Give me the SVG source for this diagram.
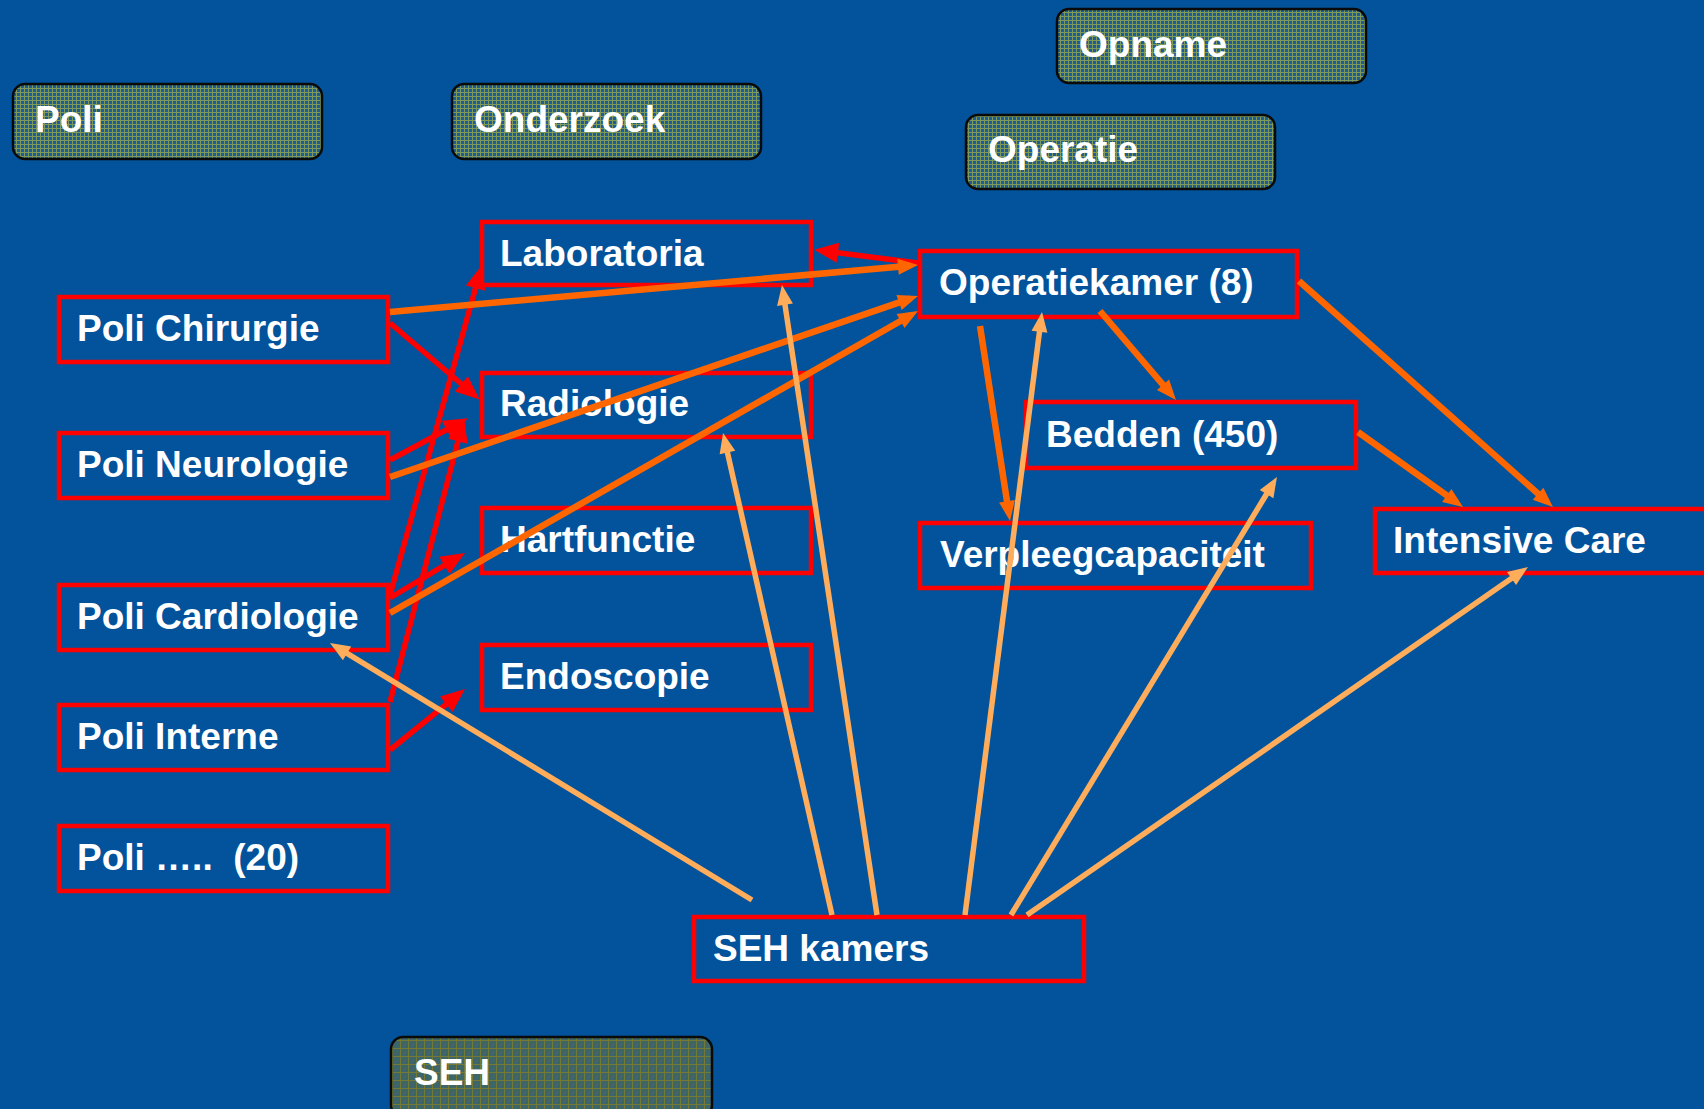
<svg xmlns="http://www.w3.org/2000/svg" width="1704" height="1109" viewBox="0 0 1704 1109">
<style>
.node rect{fill:#02539b;stroke:#ff0000;stroke-width:4.5}
.hdr rect{stroke:#0a0a0a;stroke-width:2.5}
.hdr .p{fill:url(#plaid)}
.hdr .g{fill:url(#grid)}
text{font-family:"Liberation Sans",Arial,sans-serif;font-weight:bold;font-size:37px;fill:#ffffff;white-space:pre}
.cr line{stroke:#ff0000;stroke-width:5.5;marker-end:url(#arrR)}
.co line{stroke:#ff6600;stroke-width:6.5;marker-end:url(#arrO)}
.cl line{stroke:#ffad5b;stroke-width:5.5;marker-end:url(#arrL)}
</style>
<defs>
<pattern id="plaid" patternUnits="userSpaceOnUse" width="4" height="4">
<rect width="4" height="4" fill="#1d5c99"/>
<rect width="1" height="4" fill="#7f9a58"/>
<rect width="4" height="1" fill="#7f9a58"/>
</pattern>
<pattern id="grid" patternUnits="userSpaceOnUse" width="8" height="8">
<rect width="8" height="8" fill="#3e6668"/>
<rect width="1" height="8" fill="#747a36"/>
<rect width="8" height="1" fill="#747a36"/>
</pattern>
<marker id="arrR" markerUnits="userSpaceOnUse" markerWidth="24" markerHeight="20" refX="14" refY="10" orient="auto" overflow="visible">
<path d="M0,0 L24,10 L0,20 z" fill="#ff0000"/>
</marker>
<marker id="arrO" markerUnits="userSpaceOnUse" markerWidth="20" markerHeight="16" refX="12" refY="8" orient="auto" overflow="visible">
<path d="M0,0 L20,8 L0,16 z" fill="#ff6600"/>
</marker>
<marker id="arrL" markerUnits="userSpaceOnUse" markerWidth="20" markerHeight="16" refX="12" refY="8" orient="auto" overflow="visible">
<path d="M0,0 L20,8 L0,16 z" fill="#ffad5b"/>
</marker>
</defs>
<rect x="0" y="0" width="1704" height="1109" fill="#02539b"/>

<g id="hdr-poli" class="hdr"><rect class="p" x="13" y="84" width="309" height="75" rx="12"/><text x="35" y="132">Poli</text></g>
<g id="hdr-onderzoek" class="hdr"><rect class="p" x="452" y="84" width="309" height="75" rx="12"/><text x="474" y="132">Onderzoek</text></g>
<g id="hdr-opname" class="hdr"><rect class="p" x="1057" y="9" width="309" height="74" rx="12"/><text x="1079" y="57">Opname</text></g>
<g id="hdr-operatie" class="hdr"><rect class="p" x="966" y="115" width="309" height="74" rx="12"/><text x="988" y="162">Operatie</text></g>
<g id="hdr-seh" class="hdr"><rect class="g" x="391" y="1037" width="321" height="80" rx="12"/><text x="414" y="1085">SEH</text></g>

<g id="n-lab" class="node"><rect x="482" y="222" width="329" height="63"/><text x="500" y="266">Laboratoria</text></g>
<g id="n-rad" class="node"><rect x="482" y="373" width="329" height="64"/><text x="500" y="416">Radiologie</text></g>
<g id="n-hart" class="node"><rect x="482" y="508" width="329" height="65"/><text x="500" y="552">Hartfunctie</text></g>
<g id="n-endo" class="node"><rect x="482" y="645" width="329" height="65"/><text x="500" y="689">Endoscopie</text></g>
<g id="n-chir" class="node"><rect x="59" y="297" width="329" height="65"/><text x="77" y="341">Poli Chirurgie</text></g>
<g id="n-neuro" class="node"><rect x="59" y="433" width="329" height="65"/><text x="77" y="477">Poli Neurologie</text></g>
<g id="n-cardio" class="node"><rect x="59" y="585" width="329" height="65"/><text x="77" y="629">Poli Cardiologie</text></g>
<g id="n-interne" class="node"><rect x="59" y="705" width="329" height="65"/><text x="77" y="749">Poli Interne</text></g>
<g id="n-poli20" class="node"><rect x="59" y="826" width="329" height="65"/><text x="77" y="870">Poli …..  (20)</text></g>
<g id="n-ok" class="node"><rect x="920" y="251" width="377" height="66"/><text x="939" y="295">Operatiekamer (8)</text></g>
<g id="n-bedden" class="node"><rect x="1026" y="402" width="330" height="66"/><text x="1046" y="447">Bedden (450)</text></g>
<g id="n-verpleeg" class="node"><rect x="920" y="523" width="391" height="65"/><text x="940" y="567">Verpleegcapaciteit</text></g>
<g id="n-ic" class="node"><rect x="1375" y="509" width="345" height="64"/><text x="1393" y="553">Intensive Care</text></g>
<g id="n-sehk" class="node"><rect x="694" y="917" width="390" height="64"/><text x="713" y="961">SEH kamers</text></g>

<g id="connectors">
<g class="cr">
<line x1="918" y1="263" x2="824" y2="251"/>
<line x1="390" y1="323" x2="472" y2="393"/>
<line x1="390" y1="460" x2="459" y2="423"/>
<line x1="390" y1="702" x2="461.5" y2="427.7"/>
<line x1="390" y1="595" x2="479.3" y2="274.6"/>
<line x1="390" y1="598" x2="456.4" y2="558.1"/>
<line x1="390" y1="750" x2="457.2" y2="695.3"/>
</g>
<g class="co">
<line x1="390" y1="312" x2="910" y2="265.7"/>
<line x1="390" y1="477" x2="910.4" y2="298.6"/>
<line x1="390" y1="613" x2="911" y2="315"/>
<line x1="980" y1="326" x2="1008.8" y2="513.1"/>
<line x1="1100" y1="311" x2="1170.8" y2="393.9"/>
<line x1="1299" y1="281" x2="1547" y2="501.7"/>
<line x1="1358" y1="432" x2="1456.5" y2="502.4"/>
</g>
<g class="cl">
<line x1="752" y1="900" x2="336.8" y2="647.2"/>
<line x1="832" y1="915" x2="724.8" y2="440.8"/>
<line x1="877" y1="915" x2="783.2" y2="292.9"/>
<line x1="965" y1="915" x2="1041" y2="319.9"/>
<line x1="1011" y1="915" x2="1272.8" y2="483.8"/>
<line x1="1027" y1="915" x2="1521.4" y2="571.6"/>
</g>
</g>
</svg>
